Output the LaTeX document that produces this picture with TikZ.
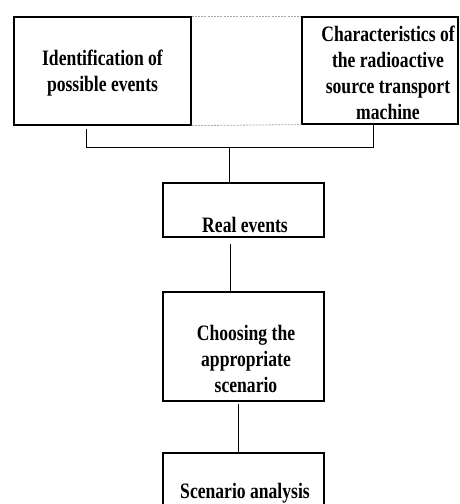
\documentclass[tikz,border=0pt]{standalone}
\usepackage{fontspec}
\newfontfamily\dfont[FakeStretch=0.8]{Liberation Serif}
\begin{document}
\begin{tikzpicture}[x=1pt,y=-1pt,
  box/.style={draw=black,line width=1.2pt,minimum width=#1,inner sep=0pt},
  txt/.style={anchor=north,align=center,inner sep=0pt,font=\dfont\bfseries\fontsize{22}{26}\selectfont},
  conn/.style={draw=black,line width=0.9pt},
  gap/.style={draw=gray!70,line width=0.8pt,dash pattern=on 2pt off 1.2pt}]
\useasboundingbox (0,0) rectangle (459,504);
% boxes
\node[box=177pt,minimum height=108pt] (L) at (102.5,71) {};
\node[box=156pt,minimum height=107pt] (R) at (380,70.5) {};
\node[box=161pt,minimum height=54pt] (RE) at (243.5,210) {};
\node[box=161pt,minimum height=109pt] (CH) at (243.5,346.5) {};
\node[box=161pt,minimum height=110pt] (SA) at (243.5,508) {};
% texts
\node[txt] (tL) at (102.5,50) {Identification of\\possible events};
\node[txt] (tR) at (388,26) {Characteristics of\\the radioactive\\source transport\\machine};
\node[txt] (tRE) at (245,217) {Real events};
\node[txt] (tCH) at (246,325) {Choosing the\\appropriate\\scenario};
\node[txt] (tSA) at (245,483.5) {Scenario analysis};
% dashed gray links
\draw[gap] (L.north east) -- (R.north west);
\draw[gap] (L.south east) -- (R.south west);
% bracket
\coordinate (bl) at (86,147);
\coordinate (br) at (373,147);
\coordinate (bj) at (229,147);
\coordinate (c1) at (230,0);
\coordinate (c2) at (238,0);
\draw[conn,shorten <=3pt] (L.south -| bl) -- (bl) -- (br) -- (R.south -| br);
\draw[conn] (bj) -- (RE.north -| bj);
\draw[conn,shorten <=6pt] (RE.south -| c1) -- (CH.north -| c1);
\draw[conn,shorten <=2pt] (CH.south -| c2) -- (SA.north -| c2);
\end{tikzpicture}
\end{document}
